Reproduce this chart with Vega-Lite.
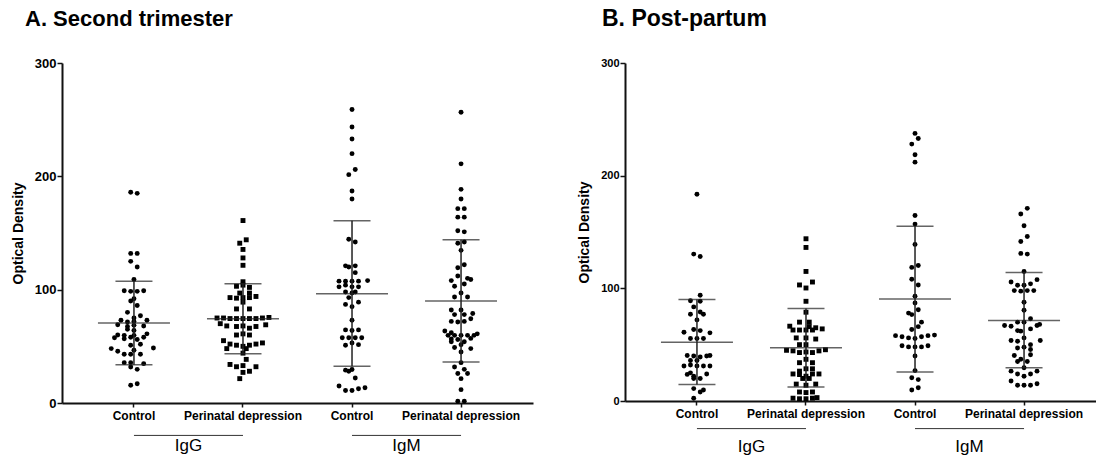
{
  "$schema": "https://vega.github.io/schema/vega-lite/v6.json",
  "padding": {"left": 11, "top": 8, "right": 0, "bottom": 0},
  "autosize": {"type": "pad"},
  "spacing": 44,
  "config": {
    "view": {"stroke": null},
    "font": "Liberation Sans",
    "axis": {"grid": false, "domainColor": "#111", "tickColor": "#111", "labelColor": "#000", "titleColor": "#000"},
    "axisX": {"domainWidth": 2, "tickSize": 4, "tickWidth": 1.5, "labelFontWeight": "bold", "labelFontSize": 12, "labelAngle": 0, "labelPadding": 3, "title": null},
    "axisY": {"domainWidth": 2, "tickSize": 5, "tickWidth": 1.5, "labelFontWeight": "bold", "labelPadding": 1, "titleFontWeight": "bold", "titleFontSize": 14, "titlePadding": 9}
  },
  "datasets": {
    "pts": [
      {"p":"A","g":"IgG|Control","v":186,"c":-0.5},{"p":"A","g":"IgG|Control","v":185,"c":0.5},{"p":"A","g":"IgG|Control","v":132,"c":-0.5},{"p":"A","g":"IgG|Control","v":132,"c":0.5},{"p":"A","g":"IgG|Control","v":125,"c":-0.5},{"p":"A","g":"IgG|Control","v":120,"c":0.5},{"p":"A","g":"IgG|Control","v":109,"c":0},
      {"p":"A","g":"IgG|Control","v":99,"c":-1.5},{"p":"A","g":"IgG|Control","v":98.5,"c":-0.5},{"p":"A","g":"IgG|Control","v":98.5,"c":0.5},{"p":"A","g":"IgG|Control","v":99,"c":1.5},
      {"p":"A","g":"IgG|Control","v":90,"c":-0.5},{"p":"A","g":"IgG|Control","v":92,"c":0},{"p":"A","g":"IgG|Control","v":86,"c":0.5},
      {"p":"A","g":"IgG|Control","v":80,"c":-1},{"p":"A","g":"IgG|Control","v":77,"c":1},{"p":"A","g":"IgG|Control","v":75,"c":0},
      {"p":"A","g":"IgG|Control","v":73,"c":-2},{"p":"A","g":"IgG|Control","v":71.5,"c":-1},{"p":"A","g":"IgG|Control","v":72,"c":0},{"p":"A","g":"IgG|Control","v":73,"c":2},
      {"p":"A","g":"IgG|Control","v":69,"c":-2.5},{"p":"A","g":"IgG|Control","v":67.6,"c":-1},{"p":"A","g":"IgG|Control","v":68.5,"c":0},{"p":"A","g":"IgG|Control","v":68,"c":1.5},
      {"p":"A","g":"IgG|Control","v":65,"c":-1},{"p":"A","g":"IgG|Control","v":64,"c":0},
      {"p":"A","g":"IgG|Control","v":60,"c":-2.5},{"p":"A","g":"IgG|Control","v":59.7,"c":-1.5},{"p":"A","g":"IgG|Control","v":59.7,"c":0},{"p":"A","g":"IgG|Control","v":61,"c":2},
      {"p":"A","g":"IgG|Control","v":57.6,"c":-3},{"p":"A","g":"IgG|Control","v":58,"c":-0.5},{"p":"A","g":"IgG|Control","v":58,"c":1.5},
      {"p":"A","g":"IgG|Control","v":56.7,"c":-1.5},{"p":"A","g":"IgG|Control","v":56,"c":0.5},
      {"p":"A","g":"IgG|Control","v":51,"c":-0.5},{"p":"A","g":"IgG|Control","v":51.8,"c":1},
      {"p":"A","g":"IgG|Control","v":48,"c":-3.5},{"p":"A","g":"IgG|Control","v":45.6,"c":-2.5},{"p":"A","g":"IgG|Control","v":46.5,"c":0},{"p":"A","g":"IgG|Control","v":48.5,"c":3},
      {"p":"A","g":"IgG|Control","v":43,"c":-1.5},{"p":"A","g":"IgG|Control","v":43,"c":-0.5},{"p":"A","g":"IgG|Control","v":43,"c":1},
      {"p":"A","g":"IgG|Control","v":35.6,"c":-1.5},{"p":"A","g":"IgG|Control","v":35.6,"c":-0.5},{"p":"A","g":"IgG|Control","v":34.7,"c":1.5},
      {"p":"A","g":"IgG|Control","v":31.8,"c":-0.5},{"p":"A","g":"IgG|Control","v":29.7,"c":0.5},
      {"p":"A","g":"IgG|Control","v":15.6,"c":-0.5},{"p":"A","g":"IgG|Control","v":17,"c":0.5},

      {"p":"A","g":"IgG|Perinatal depression","v":161,"c":0},{"p":"A","g":"IgG|Perinatal depression","v":144,"c":0.5},{"p":"A","g":"IgG|Perinatal depression","v":141,"c":-0.5},{"p":"A","g":"IgG|Perinatal depression","v":135.5,"c":0},{"p":"A","g":"IgG|Perinatal depression","v":128,"c":0},{"p":"A","g":"IgG|Perinatal depression","v":121.5,"c":0},{"p":"A","g":"IgG|Perinatal depression","v":107,"c":0},
      {"p":"A","g":"IgG|Perinatal depression","v":103,"c":-1},{"p":"A","g":"IgG|Perinatal depression","v":104,"c":0},{"p":"A","g":"IgG|Perinatal depression","v":102,"c":1},{"p":"A","g":"IgG|Perinatal depression","v":97,"c":-0.5},{"p":"A","g":"IgG|Perinatal depression","v":97,"c":1},
      {"p":"A","g":"IgG|Perinatal depression","v":93,"c":-2},{"p":"A","g":"IgG|Perinatal depression","v":92.5,"c":-1},{"p":"A","g":"IgG|Perinatal depression","v":93,"c":0},{"p":"A","g":"IgG|Perinatal depression","v":93,"c":1},{"p":"A","g":"IgG|Perinatal depression","v":94,"c":2},
      {"p":"A","g":"IgG|Perinatal depression","v":89,"c":0},{"p":"A","g":"IgG|Perinatal depression","v":83,"c":-1},{"p":"A","g":"IgG|Perinatal depression","v":83,"c":1},
      {"p":"A","g":"IgG|Perinatal depression","v":75,"c":-4},{"p":"A","g":"IgG|Perinatal depression","v":75,"c":-3},{"p":"A","g":"IgG|Perinatal depression","v":74.5,"c":-2},{"p":"A","g":"IgG|Perinatal depression","v":74.5,"c":-1},{"p":"A","g":"IgG|Perinatal depression","v":74.5,"c":0},{"p":"A","g":"IgG|Perinatal depression","v":74.5,"c":1},{"p":"A","g":"IgG|Perinatal depression","v":74.5,"c":2},{"p":"A","g":"IgG|Perinatal depression","v":75,"c":3},{"p":"A","g":"IgG|Perinatal depression","v":75.5,"c":4},
      {"p":"A","g":"IgG|Perinatal depression","v":70,"c":-3.5},{"p":"A","g":"IgG|Perinatal depression","v":68,"c":-2.5},{"p":"A","g":"IgG|Perinatal depression","v":67.5,"c":-1},{"p":"A","g":"IgG|Perinatal depression","v":68,"c":0},{"p":"A","g":"IgG|Perinatal depression","v":66,"c":1},{"p":"A","g":"IgG|Perinatal depression","v":67.5,"c":2},{"p":"A","g":"IgG|Perinatal depression","v":69,"c":3.5},
      {"p":"A","g":"IgG|Perinatal depression","v":60,"c":-1},{"p":"A","g":"IgG|Perinatal depression","v":61,"c":0},{"p":"A","g":"IgG|Perinatal depression","v":60,"c":1},
      {"p":"A","g":"IgG|Perinatal depression","v":55,"c":-3},{"p":"A","g":"IgG|Perinatal depression","v":52,"c":-2},{"p":"A","g":"IgG|Perinatal depression","v":51,"c":-1},{"p":"A","g":"IgG|Perinatal depression","v":50,"c":0},{"p":"A","g":"IgG|Perinatal depression","v":51,"c":1},{"p":"A","g":"IgG|Perinatal depression","v":52,"c":2},{"p":"A","g":"IgG|Perinatal depression","v":53,"c":3},
      {"p":"A","g":"IgG|Perinatal depression","v":48,"c":-2.5},{"p":"A","g":"IgG|Perinatal depression","v":48,"c":0.5},
      {"p":"A","g":"IgG|Perinatal depression","v":44,"c":0},{"p":"A","g":"IgG|Perinatal depression","v":38.5,"c":0.5},
      {"p":"A","g":"IgG|Perinatal depression","v":34,"c":-2},{"p":"A","g":"IgG|Perinatal depression","v":32,"c":-1},{"p":"A","g":"IgG|Perinatal depression","v":33,"c":0},{"p":"A","g":"IgG|Perinatal depression","v":32,"c":2},
      {"p":"A","g":"IgG|Perinatal depression","v":27,"c":0},{"p":"A","g":"IgG|Perinatal depression","v":28,"c":1},
      {"p":"A","g":"IgG|Perinatal depression","v":21.5,"c":-0.5},

      {"p":"A","g":"IgM|Control","v":259,"c":0},{"p":"A","g":"IgM|Control","v":243.5,"c":0},{"p":"A","g":"IgM|Control","v":233,"c":0},{"p":"A","g":"IgM|Control","v":220,"c":0},{"p":"A","g":"IgM|Control","v":206,"c":0.5},{"p":"A","g":"IgM|Control","v":201.5,"c":-0.5},{"p":"A","g":"IgM|Control","v":187,"c":0},{"p":"A","g":"IgM|Control","v":180,"c":0},
      {"p":"A","g":"IgM|Control","v":144.5,"c":-0.5},{"p":"A","g":"IgM|Control","v":142,"c":0.5},
      {"p":"A","g":"IgM|Control","v":121,"c":-1},{"p":"A","g":"IgM|Control","v":120,"c":-0.5},{"p":"A","g":"IgM|Control","v":121,"c":0.5},{"p":"A","g":"IgM|Control","v":115,"c":0.5},
      {"p":"A","g":"IgM|Control","v":107.5,"c":-2},{"p":"A","g":"IgM|Control","v":107.5,"c":-1},{"p":"A","g":"IgM|Control","v":107.5,"c":0},{"p":"A","g":"IgM|Control","v":107.5,"c":1},{"p":"A","g":"IgM|Control","v":108,"c":2.4},
      {"p":"A","g":"IgM|Control","v":102.5,"c":-2},{"p":"A","g":"IgM|Control","v":104,"c":-1},{"p":"A","g":"IgM|Control","v":102.5,"c":0},{"p":"A","g":"IgM|Control","v":102.5,"c":1},
      {"p":"A","g":"IgM|Control","v":98,"c":-1},{"p":"A","g":"IgM|Control","v":97,"c":0},{"p":"A","g":"IgM|Control","v":98,"c":0.5},{"p":"A","g":"IgM|Control","v":93,"c":-0.5},
      {"p":"A","g":"IgM|Control","v":87,"c":-1},{"p":"A","g":"IgM|Control","v":85,"c":0},{"p":"A","g":"IgM|Control","v":89,"c":1},{"p":"A","g":"IgM|Control","v":73,"c":0},
      {"p":"A","g":"IgM|Control","v":64.5,"c":-1},{"p":"A","g":"IgM|Control","v":64,"c":0},{"p":"A","g":"IgM|Control","v":64.5,"c":1},
      {"p":"A","g":"IgM|Control","v":57.6,"c":-1.5},{"p":"A","g":"IgM|Control","v":57.6,"c":-0.5},{"p":"A","g":"IgM|Control","v":57.6,"c":0.5},{"p":"A","g":"IgM|Control","v":57.6,"c":1.5},
      {"p":"A","g":"IgM|Control","v":51,"c":-1},{"p":"A","g":"IgM|Control","v":53,"c":0},{"p":"A","g":"IgM|Control","v":51.5,"c":1},
      {"p":"A","g":"IgM|Control","v":29,"c":-1},{"p":"A","g":"IgM|Control","v":28,"c":-0.5},{"p":"A","g":"IgM|Control","v":29.5,"c":0},{"p":"A","g":"IgM|Control","v":22,"c":0.5},
      {"p":"A","g":"IgM|Control","v":15,"c":-2},{"p":"A","g":"IgM|Control","v":11,"c":-1},{"p":"A","g":"IgM|Control","v":11,"c":0},{"p":"A","g":"IgM|Control","v":12.6,"c":1},{"p":"A","g":"IgM|Control","v":13.5,"c":2},

      {"p":"A","g":"IgM|Perinatal depression","v":256.5,"c":0},{"p":"A","g":"IgM|Perinatal depression","v":211,"c":0},{"p":"A","g":"IgM|Perinatal depression","v":188.5,"c":0},{"p":"A","g":"IgM|Perinatal depression","v":180,"c":0},
      {"p":"A","g":"IgM|Perinatal depression","v":171.5,"c":-0.5},{"p":"A","g":"IgM|Perinatal depression","v":171.5,"c":0.5},{"p":"A","g":"IgM|Perinatal depression","v":164,"c":-0.5},{"p":"A","g":"IgM|Perinatal depression","v":164,"c":0.5},{"p":"A","g":"IgM|Perinatal depression","v":152,"c":-0.5},{"p":"A","g":"IgM|Perinatal depression","v":151,"c":0.5},
      {"p":"A","g":"IgM|Perinatal depression","v":141,"c":-0.5},{"p":"A","g":"IgM|Perinatal depression","v":142,"c":0.5},{"p":"A","g":"IgM|Perinatal depression","v":134.7,"c":0},{"p":"A","g":"IgM|Perinatal depression","v":122,"c":0.5},{"p":"A","g":"IgM|Perinatal depression","v":119.4,"c":-0.5},
      {"p":"A","g":"IgM|Perinatal depression","v":112,"c":-0.5},{"p":"A","g":"IgM|Perinatal depression","v":108,"c":-1.5},{"p":"A","g":"IgM|Perinatal depression","v":110,"c":1},{"p":"A","g":"IgM|Perinatal depression","v":109,"c":1.5},
      {"p":"A","g":"IgM|Perinatal depression","v":103,"c":-1},{"p":"A","g":"IgM|Perinatal depression","v":105,"c":0.5},{"p":"A","g":"IgM|Perinatal depression","v":97,"c":0},{"p":"A","g":"IgM|Perinatal depression","v":93.5,"c":-1},{"p":"A","g":"IgM|Perinatal depression","v":93.5,"c":1},
      {"p":"A","g":"IgM|Perinatal depression","v":82,"c":-1.5},{"p":"A","g":"IgM|Perinatal depression","v":82,"c":0},{"p":"A","g":"IgM|Perinatal depression","v":79,"c":1.8},
      {"p":"A","g":"IgM|Perinatal depression","v":78,"c":-1},{"p":"A","g":"IgM|Perinatal depression","v":78,"c":0.5},
      {"p":"A","g":"IgM|Perinatal depression","v":72,"c":-1.5},{"p":"A","g":"IgM|Perinatal depression","v":71.5,"c":-0.5},{"p":"A","g":"IgM|Perinatal depression","v":72,"c":0.5},{"p":"A","g":"IgM|Perinatal depression","v":74.4,"c":1.5},
      {"p":"A","g":"IgM|Perinatal depression","v":63.5,"c":-2.5},{"p":"A","g":"IgM|Perinatal depression","v":62,"c":-1.5},
      {"p":"A","g":"IgM|Perinatal depression","v":59.7,"c":-2},{"p":"A","g":"IgM|Perinatal depression","v":59.7,"c":-1},{"p":"A","g":"IgM|Perinatal depression","v":59.7,"c":0},{"p":"A","g":"IgM|Perinatal depression","v":59.7,"c":1},{"p":"A","g":"IgM|Perinatal depression","v":59.7,"c":2},{"p":"A","g":"IgM|Perinatal depression","v":61,"c":2.5},
      {"p":"A","g":"IgM|Perinatal depression","v":56.5,"c":-1.5},{"p":"A","g":"IgM|Perinatal depression","v":56,"c":-0.5},{"p":"A","g":"IgM|Perinatal depression","v":57,"c":1.5},
      {"p":"A","g":"IgM|Perinatal depression","v":54,"c":-1.5},{"p":"A","g":"IgM|Perinatal depression","v":54,"c":0.5},
      {"p":"A","g":"IgM|Perinatal depression","v":49,"c":-1},{"p":"A","g":"IgM|Perinatal depression","v":51.5,"c":0},{"p":"A","g":"IgM|Perinatal depression","v":48,"c":1.5},{"p":"A","g":"IgM|Perinatal depression","v":45,"c":0},
      {"p":"A","g":"IgM|Perinatal depression","v":35.6,"c":0},{"p":"A","g":"IgM|Perinatal depression","v":31.8,"c":-1},{"p":"A","g":"IgM|Perinatal depression","v":29.7,"c":0.5},
      {"p":"A","g":"IgM|Perinatal depression","v":26,"c":-0.5},{"p":"A","g":"IgM|Perinatal depression","v":26,"c":1},
      {"p":"A","g":"IgM|Perinatal depression","v":21.5,"c":0},{"p":"A","g":"IgM|Perinatal depression","v":11.8,"c":0},
      {"p":"A","g":"IgM|Perinatal depression","v":1.5,"c":-0.5},{"p":"A","g":"IgM|Perinatal depression","v":1.5,"c":0.5},

      {"p":"B","g":"IgG|Control","v":183.5,"c":0},{"p":"B","g":"IgG|Control","v":130.4,"c":-0.5},{"p":"B","g":"IgG|Control","v":128.3,"c":0.5},{"p":"B","g":"IgG|Control","v":93.8,"c":0.5},
      {"p":"B","g":"IgG|Control","v":89,"c":-1},{"p":"B","g":"IgG|Control","v":88.5,"c":0.5},{"p":"B","g":"IgG|Control","v":83.5,"c":-0.5},
      {"p":"B","g":"IgG|Control","v":77,"c":-1},{"p":"B","g":"IgG|Control","v":79,"c":0.5},{"p":"B","g":"IgG|Control","v":77,"c":1},{"p":"B","g":"IgG|Control","v":72,"c":0},
      {"p":"B","g":"IgG|Control","v":63.4,"c":-0.5},{"p":"B","g":"IgG|Control","v":62.5,"c":0.5},{"p":"B","g":"IgG|Control","v":61,"c":-2},{"p":"B","g":"IgG|Control","v":60.5,"c":2},
      {"p":"B","g":"IgG|Control","v":55.5,"c":-1},{"p":"B","g":"IgG|Control","v":55.5,"c":0},{"p":"B","g":"IgG|Control","v":55.5,"c":1},
      {"p":"B","g":"IgG|Control","v":40.4,"c":-1.5},{"p":"B","g":"IgG|Control","v":40,"c":-0.5},{"p":"B","g":"IgG|Control","v":39,"c":0.5},{"p":"B","g":"IgG|Control","v":40,"c":1.5},{"p":"B","g":"IgG|Control","v":40.4,"c":2},
      {"p":"B","g":"IgG|Control","v":36,"c":-1},{"p":"B","g":"IgG|Control","v":36,"c":0},
      {"p":"B","g":"IgG|Control","v":31,"c":-2},{"p":"B","g":"IgG|Control","v":32,"c":-1},{"p":"B","g":"IgG|Control","v":31,"c":0},{"p":"B","g":"IgG|Control","v":31,"c":1},{"p":"B","g":"IgG|Control","v":31,"c":2},
      {"p":"B","g":"IgG|Control","v":23.6,"c":-1.5},{"p":"B","g":"IgG|Control","v":25,"c":-1},{"p":"B","g":"IgG|Control","v":22,"c":-0.5},{"p":"B","g":"IgG|Control","v":24,"c":1.5},
      {"p":"B","g":"IgG|Control","v":20,"c":-0.5},{"p":"B","g":"IgG|Control","v":20,"c":0.5},
      {"p":"B","g":"IgG|Control","v":11,"c":-0.5},{"p":"B","g":"IgG|Control","v":8,"c":0.5},{"p":"B","g":"IgG|Control","v":9.7,"c":1},{"p":"B","g":"IgG|Control","v":2.4,"c":-0.5},

      {"p":"B","g":"IgG|Perinatal depression","v":144,"c":0},{"p":"B","g":"IgG|Perinatal depression","v":136.3,"c":0},{"p":"B","g":"IgG|Perinatal depression","v":115,"c":0},{"p":"B","g":"IgG|Perinatal depression","v":103,"c":-1},{"p":"B","g":"IgG|Perinatal depression","v":105.6,"c":1},{"p":"B","g":"IgG|Perinatal depression","v":100.3,"c":0},{"p":"B","g":"IgG|Perinatal depression","v":88.5,"c":0},{"p":"B","g":"IgG|Perinatal depression","v":78.8,"c":0},
      {"p":"B","g":"IgG|Perinatal depression","v":70,"c":-1},{"p":"B","g":"IgG|Perinatal depression","v":70,"c":0.5},
      {"p":"B","g":"IgG|Perinatal depression","v":66.4,"c":-2.5},{"p":"B","g":"IgG|Perinatal depression","v":66,"c":0.5},{"p":"B","g":"IgG|Perinatal depression","v":65,"c":1.5},
      {"p":"B","g":"IgG|Perinatal depression","v":63,"c":-2},{"p":"B","g":"IgG|Perinatal depression","v":63,"c":-1},{"p":"B","g":"IgG|Perinatal depression","v":63,"c":0},{"p":"B","g":"IgG|Perinatal depression","v":63,"c":1},{"p":"B","g":"IgG|Perinatal depression","v":64,"c":2.5},
      {"p":"B","g":"IgG|Perinatal depression","v":56,"c":-1.5},{"p":"B","g":"IgG|Perinatal depression","v":56,"c":0},{"p":"B","g":"IgG|Perinatal depression","v":55,"c":1.5},
      {"p":"B","g":"IgG|Perinatal depression","v":50,"c":-1},{"p":"B","g":"IgG|Perinatal depression","v":50,"c":0},
      {"p":"B","g":"IgG|Perinatal depression","v":45,"c":-3},{"p":"B","g":"IgG|Perinatal depression","v":44.5,"c":-2},{"p":"B","g":"IgG|Perinatal depression","v":43,"c":-1},{"p":"B","g":"IgG|Perinatal depression","v":43.5,"c":0},{"p":"B","g":"IgG|Perinatal depression","v":43,"c":1},{"p":"B","g":"IgG|Perinatal depression","v":44.5,"c":2},{"p":"B","g":"IgG|Perinatal depression","v":45.5,"c":3},
      {"p":"B","g":"IgG|Perinatal depression","v":37,"c":0},{"p":"B","g":"IgG|Perinatal depression","v":34,"c":-1},{"p":"B","g":"IgG|Perinatal depression","v":34,"c":1},
      {"p":"B","g":"IgG|Perinatal depression","v":28.6,"c":0},{"p":"B","g":"IgG|Perinatal depression","v":26.5,"c":-1},{"p":"B","g":"IgG|Perinatal depression","v":28.6,"c":1},
      {"p":"B","g":"IgG|Perinatal depression","v":24,"c":-2},{"p":"B","g":"IgG|Perinatal depression","v":23.5,"c":-1},{"p":"B","g":"IgG|Perinatal depression","v":22,"c":0},{"p":"B","g":"IgG|Perinatal depression","v":24,"c":1},{"p":"B","g":"IgG|Perinatal depression","v":24,"c":2},
      {"p":"B","g":"IgG|Perinatal depression","v":20,"c":-0.5},{"p":"B","g":"IgG|Perinatal depression","v":20,"c":0.5},
      {"p":"B","g":"IgG|Perinatal depression","v":15,"c":-1.5},{"p":"B","g":"IgG|Perinatal depression","v":14,"c":0},{"p":"B","g":"IgG|Perinatal depression","v":15,"c":1.5},
      {"p":"B","g":"IgG|Perinatal depression","v":8,"c":-1},{"p":"B","g":"IgG|Perinatal depression","v":7.5,"c":0},{"p":"B","g":"IgG|Perinatal depression","v":8,"c":1},
      {"p":"B","g":"IgG|Perinatal depression","v":2.5,"c":-2},{"p":"B","g":"IgG|Perinatal depression","v":2,"c":-1},{"p":"B","g":"IgG|Perinatal depression","v":2,"c":0},{"p":"B","g":"IgG|Perinatal depression","v":2.5,"c":1},{"p":"B","g":"IgG|Perinatal depression","v":3,"c":1.7},

      {"p":"B","g":"IgM|Control","v":237.5,"c":0},{"p":"B","g":"IgM|Control","v":233,"c":0.5},{"p":"B","g":"IgM|Control","v":228,"c":-0.5},{"p":"B","g":"IgM|Control","v":218.6,"c":0},{"p":"B","g":"IgM|Control","v":212,"c":0},{"p":"B","g":"IgM|Control","v":164.6,"c":0},{"p":"B","g":"IgM|Control","v":157,"c":0},{"p":"B","g":"IgM|Control","v":139,"c":0},
      {"p":"B","g":"IgM|Control","v":118.6,"c":-0.5},{"p":"B","g":"IgM|Control","v":120.3,"c":0.5},{"p":"B","g":"IgM|Control","v":108,"c":-0.5},{"p":"B","g":"IgM|Control","v":103,"c":0.5},
      {"p":"B","g":"IgM|Control","v":93,"c":0},{"p":"B","g":"IgM|Control","v":87,"c":0},
      {"p":"B","g":"IgM|Control","v":78,"c":-1},{"p":"B","g":"IgM|Control","v":76.7,"c":-0.5},{"p":"B","g":"IgM|Control","v":81,"c":0.5},
      {"p":"B","g":"IgM|Control","v":70,"c":1},{"p":"B","g":"IgM|Control","v":66,"c":0.5},{"p":"B","g":"IgM|Control","v":63.4,"c":-0.5},
      {"p":"B","g":"IgM|Control","v":58,"c":-3},{"p":"B","g":"IgM|Control","v":57,"c":-2},{"p":"B","g":"IgM|Control","v":56,"c":-1},{"p":"B","g":"IgM|Control","v":55.5,"c":0},{"p":"B","g":"IgM|Control","v":57,"c":1},{"p":"B","g":"IgM|Control","v":58,"c":2},{"p":"B","g":"IgM|Control","v":58.5,"c":3},
      {"p":"B","g":"IgM|Control","v":49,"c":-2},{"p":"B","g":"IgM|Control","v":48,"c":-1},{"p":"B","g":"IgM|Control","v":48,"c":0},{"p":"B","g":"IgM|Control","v":48,"c":1},{"p":"B","g":"IgM|Control","v":49,"c":2},
      {"p":"B","g":"IgM|Control","v":40,"c":0},{"p":"B","g":"IgM|Control","v":27,"c":0},
      {"p":"B","g":"IgM|Control","v":20.6,"c":-0.5},{"p":"B","g":"IgM|Control","v":19,"c":0.5},{"p":"B","g":"IgM|Control","v":9.7,"c":-0.5},{"p":"B","g":"IgM|Control","v":11.8,"c":0.5},

      {"p":"B","g":"IgM|Perinatal depression","v":171,"c":0.5},{"p":"B","g":"IgM|Perinatal depression","v":166,"c":-0.5},{"p":"B","g":"IgM|Perinatal depression","v":155.5,"c":0},{"p":"B","g":"IgM|Perinatal depression","v":146,"c":0.5},{"p":"B","g":"IgM|Perinatal depression","v":141.6,"c":-0.5},{"p":"B","g":"IgM|Perinatal depression","v":131,"c":-0.5},{"p":"B","g":"IgM|Perinatal depression","v":130.4,"c":0.5},{"p":"B","g":"IgM|Perinatal depression","v":115,"c":0},
      {"p":"B","g":"IgM|Perinatal depression","v":105.6,"c":-2},{"p":"B","g":"IgM|Perinatal depression","v":102.7,"c":-1},{"p":"B","g":"IgM|Perinatal depression","v":102.7,"c":0},{"p":"B","g":"IgM|Perinatal depression","v":104,"c":1},{"p":"B","g":"IgM|Perinatal depression","v":107.7,"c":2},
      {"p":"B","g":"IgM|Perinatal depression","v":98,"c":-1.5},{"p":"B","g":"IgM|Perinatal depression","v":97.5,"c":-0.5},{"p":"B","g":"IgM|Perinatal depression","v":98,"c":0.5},{"p":"B","g":"IgM|Perinatal depression","v":98,"c":1.5},
      {"p":"B","g":"IgM|Perinatal depression","v":87.6,"c":0},{"p":"B","g":"IgM|Perinatal depression","v":80.5,"c":0},
      {"p":"B","g":"IgM|Perinatal depression","v":67,"c":-3},{"p":"B","g":"IgM|Perinatal depression","v":66.4,"c":-2},{"p":"B","g":"IgM|Perinatal depression","v":70,"c":-1},{"p":"B","g":"IgM|Perinatal depression","v":70,"c":0},{"p":"B","g":"IgM|Perinatal depression","v":73,"c":1},{"p":"B","g":"IgM|Perinatal depression","v":68,"c":2.4},
      {"p":"B","g":"IgM|Perinatal depression","v":62.5,"c":-1},{"p":"B","g":"IgM|Perinatal depression","v":62,"c":-0.5},{"p":"B","g":"IgM|Perinatal depression","v":64,"c":1},{"p":"B","g":"IgM|Perinatal depression","v":67,"c":2},
      {"p":"B","g":"IgM|Perinatal depression","v":56,"c":0},
      {"p":"B","g":"IgM|Perinatal depression","v":53.7,"c":-2},{"p":"B","g":"IgM|Perinatal depression","v":53,"c":-1},{"p":"B","g":"IgM|Perinatal depression","v":50,"c":1},{"p":"B","g":"IgM|Perinatal depression","v":53.7,"c":2.5},
      {"p":"B","g":"IgM|Perinatal depression","v":47,"c":-1},{"p":"B","g":"IgM|Perinatal depression","v":47.8,"c":0},{"p":"B","g":"IgM|Perinatal depression","v":45.7,"c":1},
      {"p":"B","g":"IgM|Perinatal depression","v":40.4,"c":-1.5},{"p":"B","g":"IgM|Perinatal depression","v":37,"c":-0.5},{"p":"B","g":"IgM|Perinatal depression","v":41,"c":1},
      {"p":"B","g":"IgM|Perinatal depression","v":35,"c":-1},{"p":"B","g":"IgM|Perinatal depression","v":35,"c":0.5},{"p":"B","g":"IgM|Perinatal depression","v":29.5,"c":0},
      {"p":"B","g":"IgM|Perinatal depression","v":26.5,"c":-2},{"p":"B","g":"IgM|Perinatal depression","v":24,"c":-1},{"p":"B","g":"IgM|Perinatal depression","v":22,"c":0},{"p":"B","g":"IgM|Perinatal depression","v":24,"c":1},{"p":"B","g":"IgM|Perinatal depression","v":26.5,"c":2},
      {"p":"B","g":"IgM|Perinatal depression","v":17.7,"c":-2},{"p":"B","g":"IgM|Perinatal depression","v":14,"c":-1},{"p":"B","g":"IgM|Perinatal depression","v":14,"c":0},{"p":"B","g":"IgM|Perinatal depression","v":14,"c":1},{"p":"B","g":"IgM|Perinatal depression","v":15.3,"c":2}
    ],
    "stats": [
      {"p":"A","g":"IgG|Control","mean":70.6,"lo":33.8,"hi":107.4},
      {"p":"A","g":"IgG|Perinatal depression","mean":74.4,"lo":43.5,"hi":105.3},
      {"p":"A","g":"IgM|Control","mean":96.5,"lo":32.4,"hi":160.9},
      {"p":"A","g":"IgM|Perinatal depression","mean":90,"lo":36.2,"hi":144},
      {"p":"B","g":"IgG|Control","mean":52.2,"lo":14.7,"hi":90},
      {"p":"B","g":"IgG|Perinatal depression","mean":47.2,"lo":12.4,"hi":82},
      {"p":"B","g":"IgM|Control","mean":90.6,"lo":25.7,"hi":155},
      {"p":"B","g":"IgM|Perinatal depression","mean":71.4,"lo":29.5,"hi":114}
    ],
    "grp": [
      {"ig":"IgG","from":"IgG|Control","to":"IgG|Perinatal depression"},
      {"ig":"IgM","from":"IgM|Control","to":"IgM|Perinatal depression"}
    ]
  },
  "hconcat": [
    {
      "width": 471, "height": 340,
      "title": {"text": "A. Second trimester", "anchor": "start", "frame": "group", "dx": -37, "fontSize": 22, "fontWeight": "bold", "color": "#000", "offset": 26},
      "layer": [
        {
          "data": {"name": "pts"},
          "transform": [{"filter": "datum.p == 'A'"}],
          "mark": {"type": "point", "filled": true, "opacity": 1, "color": "#000", "size": 24},
          "encoding": {
            "x": {"field": "g", "type": "nominal", "scale": {"domain": ["IgG|Control","IgG|Perinatal depression","IgM|Control","IgM|Perinatal depression"], "paddingInner": 0, "paddingOuter": 0.16}, "axis": {"labelExpr": "split(datum.label, '|')[1]", "title": null}},
            "xOffset": {"field": "c", "type": "quantitative", "scale": {"domain": [-8.4, 8.4]}},
            "y": {"field": "v", "type": "quantitative", "scale": {"domain": [0, 300], "nice": false}, "axis": {"title": "Optical Density", "labelFontSize": 13, "values": [0, 100, 200, 300]}},
            "shape": {"field": "g", "type": "nominal", "scale": {"domain": ["IgG|Control","IgG|Perinatal depression","IgM|Control","IgM|Perinatal depression"], "range": ["circle","square","circle","circle"]}, "legend": null}
          }
        },
        {
          "data": {"name": "stats"},
          "transform": [{"filter": "datum.p == 'A'"}],
          "mark": {"type": "tick", "orient": "horizontal", "size": 72, "thickness": 1.5, "color": "#222"},
          "encoding": {"x": {"field": "g", "type": "nominal"}, "y": {"field": "mean", "type": "quantitative", "title": "Optical Density"}}
        },
        {
          "data": {"name": "stats"},
          "transform": [{"filter": "datum.p == 'A'"}],
          "mark": {"type": "tick", "orient": "horizontal", "size": 37, "thickness": 1.5, "color": "#222"},
          "encoding": {"x": {"field": "g", "type": "nominal"}, "y": {"field": "lo", "type": "quantitative", "title": "Optical Density"}}
        },
        {
          "data": {"name": "stats"},
          "transform": [{"filter": "datum.p == 'A'"}],
          "mark": {"type": "tick", "orient": "horizontal", "size": 37, "thickness": 1.5, "color": "#222"},
          "encoding": {"x": {"field": "g", "type": "nominal"}, "y": {"field": "hi", "type": "quantitative", "title": "Optical Density"}}
        },
        {
          "data": {"name": "stats"},
          "transform": [{"filter": "datum.p == 'A'"}],
          "mark": {"type": "rule", "strokeWidth": 1.5, "color": "#222"},
          "encoding": {"x": {"field": "g", "type": "nominal"}, "y": {"field": "lo", "type": "quantitative", "title": "Optical Density"}, "y2": {"field": "hi"}}
        },
        {
          "data": {"name": "grp"},
          "mark": {"type": "rule", "strokeWidth": 1, "color": "#333"},
          "encoding": {"x": {"field": "from", "type": "nominal", "bandPosition": 0.5}, "x2": {"field": "to", "bandPosition": 0.5}, "y": {"datum": -28.6, "type": "quantitative"}}
        },
        {
          "data": {"name": "grp"},
          "mark": {"type": "text", "fontSize": 17, "align": "center", "baseline": "alphabetic", "color": "#000"},
          "encoding": {"x": {"field": "to", "type": "nominal", "bandPosition": 0}, "y": {"datum": -42.5, "type": "quantitative"}, "text": {"field": "ig"}}
        }
      ]
    },
    {
      "width": 471, "height": 338,
      "title": {"text": "B. Post-partum", "anchor": "start", "frame": "group", "dx": -23, "fontSize": 23, "fontWeight": "bold", "color": "#000", "offset": 26},
      "layer": [
        {
          "data": {"name": "pts"},
          "transform": [{"filter": "datum.p == 'B'"}],
          "mark": {"type": "point", "filled": true, "opacity": 1, "color": "#000", "size": 24},
          "encoding": {
            "x": {"field": "g", "type": "nominal", "scale": {"domain": ["IgG|Control","IgG|Perinatal depression","IgM|Control","IgM|Perinatal depression"], "paddingInner": 0, "paddingOuter": 0.16}, "axis": {"labelExpr": "split(datum.label, '|')[1]", "title": null}},
            "xOffset": {"field": "c", "type": "quantitative", "scale": {"domain": [-8.4, 8.4]}},
            "y": {"field": "v", "type": "quantitative", "scale": {"domain": [0, 300], "nice": false}, "axis": {"title": "Optical Density", "labelFontSize": 11, "values": [0, 100, 200, 300]}},
            "shape": {"field": "g", "type": "nominal", "scale": {"domain": ["IgG|Control","IgG|Perinatal depression","IgM|Control","IgM|Perinatal depression"], "range": ["circle","square","circle","circle"]}, "legend": null}
          }
        },
        {
          "data": {"name": "stats"},
          "transform": [{"filter": "datum.p == 'B'"}],
          "mark": {"type": "tick", "orient": "horizontal", "size": 72, "thickness": 1.5, "color": "#222"},
          "encoding": {"x": {"field": "g", "type": "nominal"}, "y": {"field": "mean", "type": "quantitative", "title": "Optical Density"}}
        },
        {
          "data": {"name": "stats"},
          "transform": [{"filter": "datum.p == 'B'"}],
          "mark": {"type": "tick", "orient": "horizontal", "size": 37, "thickness": 1.5, "color": "#222"},
          "encoding": {"x": {"field": "g", "type": "nominal"}, "y": {"field": "lo", "type": "quantitative", "title": "Optical Density"}}
        },
        {
          "data": {"name": "stats"},
          "transform": [{"filter": "datum.p == 'B'"}],
          "mark": {"type": "tick", "orient": "horizontal", "size": 37, "thickness": 1.5, "color": "#222"},
          "encoding": {"x": {"field": "g", "type": "nominal"}, "y": {"field": "hi", "type": "quantitative", "title": "Optical Density"}}
        },
        {
          "data": {"name": "stats"},
          "transform": [{"filter": "datum.p == 'B'"}],
          "mark": {"type": "rule", "strokeWidth": 1.5, "color": "#222"},
          "encoding": {"x": {"field": "g", "type": "nominal"}, "y": {"field": "lo", "type": "quantitative", "title": "Optical Density"}, "y2": {"field": "hi"}}
        },
        {
          "data": {"name": "grp"},
          "mark": {"type": "rule", "strokeWidth": 1, "color": "#333"},
          "encoding": {"x": {"field": "from", "type": "nominal", "bandPosition": 0.5}, "x2": {"field": "to", "bandPosition": 0.5}, "y": {"datum": -24.5, "type": "quantitative"}}
        },
        {
          "data": {"name": "grp"},
          "mark": {"type": "text", "fontSize": 17, "align": "center", "baseline": "alphabetic", "color": "#000"},
          "encoding": {"x": {"field": "to", "type": "nominal", "bandPosition": 0}, "y": {"datum": -45, "type": "quantitative"}, "text": {"field": "ig"}}
        }
      ]
    }
  ]
}
